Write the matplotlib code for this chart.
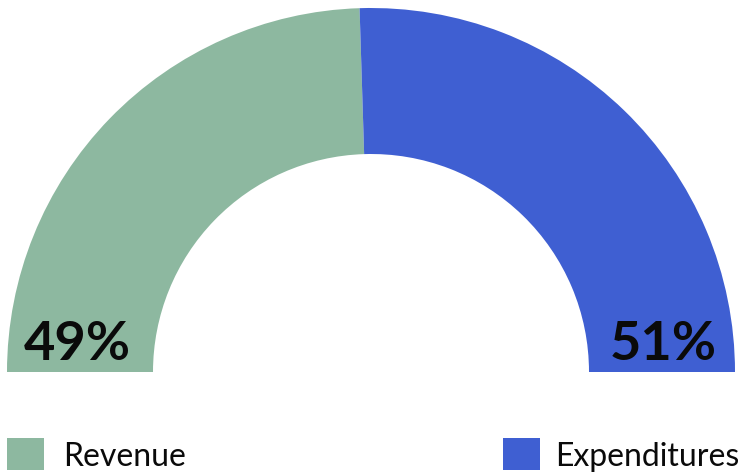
import matplotlib
matplotlib.use("Agg")
import matplotlib.pyplot as plt
from matplotlib.patches import Wedge, Rectangle

# Data
categories = ["Revenue", "Expenditures"]
shares = [49, 51]
labels = ["49%", "51%"]
colors = ["#8DB8A0", "#3F5FD2"]

W, H = 742, 472
fig = plt.figure(figsize=(W / 100, H / 100), dpi=100)
ax = fig.add_axes([0, 0, 1, 1])
ax.set_xlim(0, W)
ax.set_ylim(0, H)
ax.axis("off")

cx, cy = 371, 100
r_out, r_in = 364, 218

total = sum(shares)
start = 180.0
for val, col in zip(shares, colors):
    sweep = 180.0 * val / total
    ax.add_patch(Wedge((cx, cy), r_out, start - sweep, start,
                       width=r_out - r_in, facecolor=col, edgecolor="none"))
    start -= sweep

# percent labels
ax.text(24, 112, labels[0], fontfamily="Lato", fontweight="bold",
        fontsize=39, ha="left", va="baseline", color="#0a0a0a")
ax.text(717, 112, labels[1], fontfamily="Lato", fontweight="bold",
        fontsize=39, ha="right", va="baseline", color="#0a0a0a")

# legend
legend_x = [7, 503]
text_x = [63, 555]
for x0, tx, name, col in zip(legend_x, text_x, categories, colors):
    ax.add_patch(Rectangle((x0, 2), 37, 32, facecolor=col, edgecolor="none"))
    ax.text(tx, 6, name, fontfamily="Lato", fontsize=23,
            ha="left", va="baseline", color="#0a0a0a")

fig.savefig("out.png", dpi=100)
